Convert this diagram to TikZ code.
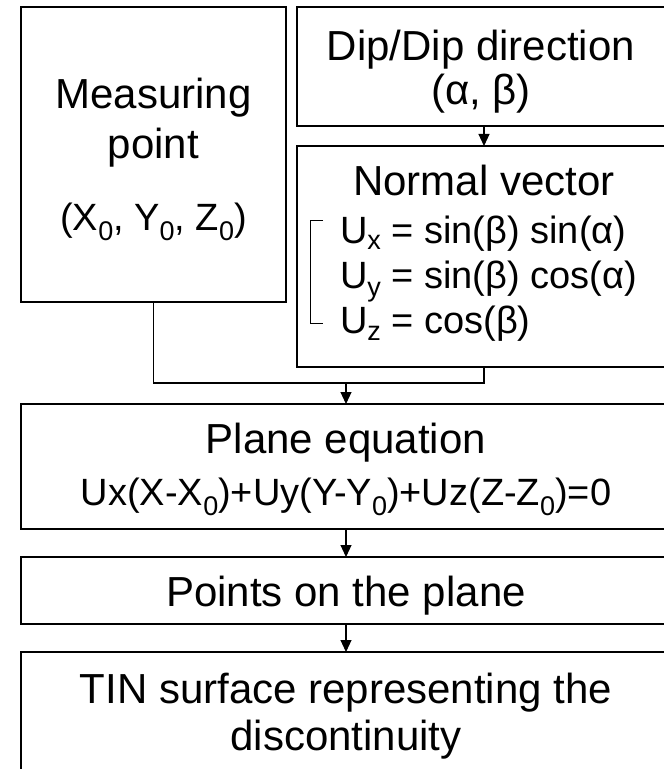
\documentclass[tikz,border=0pt]{standalone}
\usepackage{fontspec}
\setmainfont{Liberation Sans}
\usetikzlibrary{arrows.meta}
\newcommand\lowsub[2][10bp]{\raisebox{-#1}{\fontsize{27bp}{27bp}\selectfont #2}}
\newcommand\bigfont{\fontsize{42bp}{50bp}\selectfont}
\newcommand\midfont{\fontsize{38bp}{46bp}\selectfont}
\tikzset{
  box/.style={draw, line width=1.4bp, inner sep=0pt, outer sep=0pt},
  txt/.style={inner sep=0pt, outer sep=0pt, anchor=base, font=\bigfont},
  txtm/.style={inner sep=0pt, outer sep=0pt, anchor=base, font=\midfont},
  conn/.style={line width=1.1bp},
  arr/.style={conn, -{Triangle[width=11bp,length=12bp]}}
}
\begin{document}
\begin{tikzpicture}[x=1bp, y=-1bp]
\useasboundingbox (0,0) rectangle (664,769);
\clip (0,0) rectangle (664,769);
\fill[white] (0,0) rectangle (664,769);
% boxes
\node[box, minimum width=265bp, minimum height=295bp] (mp) at (153.5,154.5) {};
\node[box, minimum width=374bp, minimum height=119bp] (dip) at (484,66.5) {};
\node[box, minimum width=374bp, minimum height=221bp] (nv) at (484,256.5) {};
\node[box, minimum width=650bp, minimum height=125bp] (pe) at (346,466.5) {};
\node[box, minimum width=650bp, minimum height=67bp] (pts) at (346,590.5) {};
\node[box, minimum width=650bp, minimum height=138bp] (tin) at (346,721) {};
% texts
\node[txt] (mp1) at (153.5,108) {Measuring};
\node[txt] (mp2) at (153.5,158) {point};
\node[txtm] (mp3) at (153.5,230) {(X\lowsub{0}, Y\lowsub{0}, Z\lowsub{0})};
\node[txt] (dip1) at (481,61) {Dip/Dip direction};
\node[txt] (dip2) at (481,104) {(α, β)};
\node[txt] (nv1) at (484,195) {Normal vector};
\node[txtm, anchor=base west] (ux) at (340,243) {U\lowsub[6bp]{x} = sin(β) sin(α)};
\node[txtm, anchor=base west] (uy) at (340,288) {U\lowsub[8bp]{y} = sin(β) cos(α)};
\node[txtm, anchor=base west] (uz) at (340,333) {U\lowsub[7bp]{z} = cos(β)};
\draw[line width=1bp] (323,220) -- (310,220) -- (310,323) -- (323,323);
\node[txt] (pe1) at (346,453) {Plane equation};
\node[txtm] (pe2) at (346,505) {Ux(X-X\lowsub{0})+Uy(Y-Y\lowsub{0})+Uz(Z-Z\lowsub{0})=0};
\node[txt] (pts1) at (346,606) {Points on the plane};
\node[txt] (tin1) at (346,703) {TIN surface representing the};
\node[txt] (tin2) at (346,750) {discontinuity};
% connectors
\coordinate (j) at (346,383);
\draw[arr] (dip.south) -- (nv.north);
\draw[conn] (mp.south) |- (j);
\draw[conn] (nv.south) |- (j);
\draw[arr] (j) -- (pe.north);
\draw[arr] (pe.south) -- (pts.north);
\draw[arr] (pts.south) -- (tin.north);
\end{tikzpicture}
\end{document}
